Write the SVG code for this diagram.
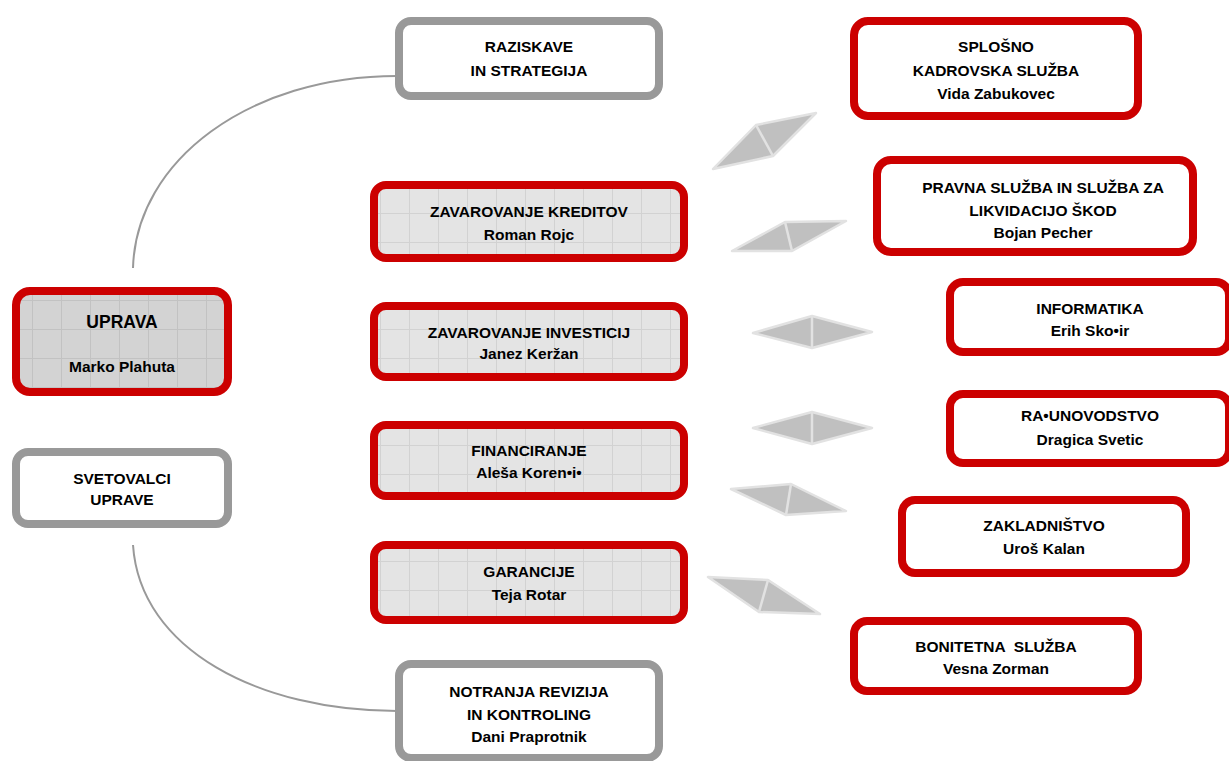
<svg xmlns="http://www.w3.org/2000/svg" width="1229" height="761" viewBox="0 0 1229 761">
<defs>
<pattern id="grid" patternUnits="userSpaceOnUse" x="3" y="10" width="29" height="29">
<rect width="29" height="29" fill="#e4e4e4"/>
<path d="M0 0.5H29M0.5 0V29" stroke="#d2d2d2" stroke-width="1" fill="none"/>
</pattern>
<pattern id="grid2" patternUnits="userSpaceOnUse" x="3" y="10" width="29" height="29">
<rect width="29" height="29" fill="#d3d3d3"/>
<path d="M0 0.5H29M0.5 0V29" stroke="#c2c2c2" stroke-width="1" fill="none"/>
</pattern>
</defs>
<style>
.red{stroke:#cc0000;stroke-width:8;}
.gray{stroke:#999999;stroke-width:8;fill:#ffffff;}
.g{fill:url(#grid);}
.w{fill:#ffffff;}
text{font-family:"Liberation Sans",Arial,sans-serif;font-weight:bold;font-size:15.5px;fill:#000;text-anchor:middle;}
.big{font-size:17.5px;}
.dia{fill:#c0c0c0;stroke:#e2e2e2;stroke-width:2.5;stroke-linejoin:round;}
.ridge{stroke:#e2e2e2;stroke-width:2.5;fill:none;}
.curve{fill:none;stroke:#999999;stroke-width:2;}
</style>
<g id="connectors">
<path class="curve" d="M133,268 C136,160 250,76 397,76"/>
<path class="curve" d="M133,545 C140,650 260,711 397,711"/>
<g id="d1"><polygon class="dia" points="713,169 756,125 816,113 773,156"/><line class="ridge" x1="756" y1="125" x2="773" y2="156"/></g>
<g id="d2"><polygon class="dia" points="732,251 785,222 846,221 792,251"/><line class="ridge" x1="785" y1="222" x2="792" y2="251"/></g>
<g id="d3"><polygon class="dia" points="753,333 812,316 872,332 812,348"/><line class="ridge" x1="812" y1="316" x2="812" y2="348"/></g>
<g id="d4"><polygon class="dia" points="753,428 812,412 872,428 812,444"/><line class="ridge" x1="812" y1="412" x2="812" y2="444"/></g>
<g id="d5"><polygon class="dia" points="731,489 791,484 846,511 786,515"/><line class="ridge" x1="791" y1="484" x2="786" y2="515"/></g>
<g id="d6"><polygon class="dia" points="708,577 768,580 820,614 759,612"/><line class="ridge" x1="768" y1="580" x2="759" y2="612"/></g>
</g>
<g id="raziskave">
<rect class="gray" x="399" y="21" width="260" height="75" rx="12"/>
<text x="529" y="52">RAZISKAVE</text>
<text x="529" y="76">IN STRATEGIJA</text>
</g>
<g id="splosno">
<rect class="red w" x="854" y="21" width="284" height="95" rx="14"/>
<text x="996" y="52">SPLOŠNO</text>
<text x="996" y="76">KADROVSKA SLUŽBA</text>
<text x="996" y="99">Vida Zabukovec</text>
</g>
<g id="zav-kreditov">
<rect class="red g" x="374" y="185" width="310" height="73" rx="12"/>
<text x="529" y="217">ZAVAROVANJE KREDITOV</text>
<text x="529" y="240">Roman Rojc</text>
</g>
<g id="pravna">
<rect class="red w" x="877" y="160" width="316" height="92" rx="14"/>
<text x="1043" y="193">PRAVNA SLUŽBA IN SLUŽBA ZA</text>
<text x="1043" y="216">LIKVIDACIJO ŠKOD</text>
<text x="1043" y="238">Bojan Pecher</text>
</g>
<g id="uprava">
<rect class="red" fill="url(#grid2)" x="16" y="291" width="212" height="101" rx="14"/>
<text class="big" x="122" y="328">UPRAVA</text>
<text x="122" y="372">Marko Plahuta</text>
</g>
<g id="zav-investicij">
<rect class="red g" x="374" y="306" width="310" height="71" rx="12"/>
<text x="529" y="338">ZAVAROVANJE INVESTICIJ</text>
<text x="529" y="359">Janez Keržan</text>
</g>
<g id="informatika">
<rect class="red w" x="950" y="282" width="279" height="70" rx="13"/>
<text x="1090" y="314">INFORMATIKA</text>
<text x="1090" y="336">Erih Sko•ir</text>
</g>
<g id="racunovodstvo">
<rect class="red w" x="950" y="394" width="279" height="69" rx="13"/>
<text x="1090" y="421">RA•UNOVODSTVO</text>
<text x="1090" y="445">Dragica Svetic</text>
</g>
<g id="svetovalci">
<rect class="gray" x="16" y="452" width="212" height="72" rx="12"/>
<text x="122" y="484">SVETOVALCI</text>
<text x="122" y="505">UPRAVE</text>
</g>
<g id="financiranje">
<rect class="red g" x="374" y="425" width="310" height="71" rx="12"/>
<text x="529" y="456">FINANCIRANJE</text>
<text x="529" y="478">Aleša Koren•i•</text>
</g>
<g id="zakladnistvo">
<rect class="red w" x="902" y="500" width="284" height="73" rx="13"/>
<text x="1044" y="531">ZAKLADNIŠTVO</text>
<text x="1044" y="554">Uroš Kalan</text>
</g>
<g id="garancije">
<rect class="red g" x="374" y="545" width="310" height="75" rx="12"/>
<text x="529" y="577">GARANCIJE</text>
<text x="529" y="600">Teja Rotar</text>
</g>
<g id="bonitetna">
<rect class="red w" x="854" y="621" width="284" height="70" rx="13"/>
<text x="996" y="652" xml:space="preserve">BONITETNA  SLUŽBA</text>
<text x="996" y="674">Vesna Zorman</text>
</g>
<g id="notranja">
<rect class="gray" x="399" y="664" width="260" height="94" rx="12"/>
<text x="529" y="697">NOTRANJA REVIZIJA</text>
<text x="529" y="720">IN KONTROLING</text>
<text x="529" y="742">Dani Praprotnik</text>
</g>
</svg>
